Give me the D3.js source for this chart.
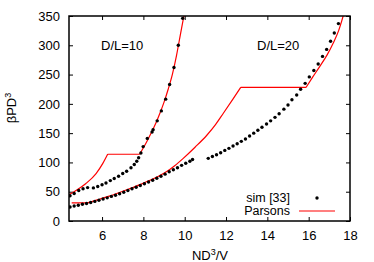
<!DOCTYPE html>
<html>
<head>
<meta charset="utf-8">
<script src="https://cdn.jsdelivr.net/npm/d3@7"></script>
<style>
  body { margin: 0; background: #fff; }
  text { font-family: "Liberation Sans", Arial, sans-serif; }
</style>
</head>
<body>
<div id="chart"></div>
<script>
// simulation points, D/L=10
var sim10X = [4.45, 4.65, 4.87, 5.08, 5.30, 5.58, 5.79, 6.00, 6.19, 6.40, 6.59, 6.80, 7.00, 7.19, 7.40, 7.56, 7.68, 7.77, 7.88,
              7.99, 8.19, 8.42, 8.47, 8.67, 8.87, 9.08, 9.27, 9.48, 9.69, 9.90];
var sim10Y = [43, 47, 52, 55, 57, 56.5, 59, 62, 65, 69, 72.5, 76.5, 81, 85, 91, 96.5, 102, 108, 116,
              127, 141, 152, 156, 171, 188, 208, 233, 262, 300, 346];

// simulation points, D/L=20 (two pieces with a gap)
var sim20aX = [4.45, 4.65, 4.85, 5.05, 5.25, 5.45, 5.65, 5.85, 6.05, 6.25, 6.45, 6.65, 6.85, 7.05, 7.25, 7.45, 7.65, 7.85,
               8.05, 8.25, 8.45, 8.65, 8.85, 9.05, 9.25, 9.45, 9.65, 9.85, 10.05, 10.25, 10.38];
var sim20aY = [24, 25.5, 27, 28.5, 30, 31.5, 33.5, 35.5, 37.5, 39.5, 42, 44, 46.5, 49, 52, 55, 57.5, 60.5,
               63.5, 66.5, 69.5, 73, 76.5, 80, 84, 87.5, 91, 95, 98.5, 102, 105];
var sim20bX = [11.14, 11.34, 11.54, 11.74, 11.94, 12.14, 12.34, 12.54, 12.74, 12.94, 13.14, 13.34, 13.54, 13.74, 13.96,
               14.16, 14.37, 14.57, 14.80, 15.00, 15.19, 15.42, 15.61, 15.83, 16.03, 16.25, 16.46, 16.67, 16.87, 17.06, 17.24, 17.44];
var sim20bY = [107, 110, 113, 116.5, 120.5, 124, 128, 132, 136, 140, 145, 150, 155, 160, 165.5,
               171, 177, 183, 191, 198, 207, 215, 225, 235, 246, 257, 268, 281, 293, 307, 321, 337];

// Parsons theory curves
var pars10X = [4.4, 4.74, 5.22, 5.71, 6.03, 6.27, 7.82, 8.0, 8.2, 8.4, 8.6, 8.8, 9.0, 9.2, 9.4, 9.6, 9.8, 9.96];
var pars10Y = [45, 52, 64, 81, 98, 114, 114, 125, 138, 152, 167, 184, 203, 225, 250, 282, 320, 350];
var pars20X = [4.53, 5.29, 5.5, 5.9, 6.3, 6.71, 7.1, 7.51, 7.9, 8.32, 8.7, 9.13, 9.5, 9.93, 10.5, 11.06, 11.5, 11.87, 12.35, 12.71,
               15.87, 16.2, 16.54, 16.9, 17.19, 17.45, 17.67];
var pars20Y = [31, 31, 33, 37.5, 42, 47, 52, 57.5, 63, 69.5, 76, 84.5, 94, 107, 126, 146, 165, 184, 209, 228,
               228, 246, 264, 284, 304, 325, 350];

var xTicks = [6, 8, 10, 12, 14, 16, 18];
var yTicks = [0, 50, 100, 150, 200, 250, 300, 350];

// split a curve at its flat parts so corners stay sharp
function pieces(xs, ys) {
    var pts = d3.zip(xs, ys), out = [], cur = [pts[0]];
    for (var i = 1; i < pts.length; i++) {
        var flat = pts[i][1] === pts[i - 1][1];
        var prevFlat = i > 1 && pts[i - 1][1] === pts[i - 2][1];
        if (flat !== prevFlat && cur.length > 1) {
            out.push(cur);
            cur = [pts[i - 1]];
        }
        cur.push(pts[i]);
    }
    out.push(cur);
    return out;
}

function init() {
    var w = 374, h = 262;
    var mLeft = 69, mRight = 350, mTop = 16, mBottom = 221;

    var svg = d3.select("#chart").append("svg")
        .attr("width", w)
        .attr("height", h);

    var x = d3.scaleLinear().domain([4.4, 18]).range([mLeft, mRight]);
    var y = d3.scaleLinear().domain([0, 350]).range([mBottom, mTop]);

    svg.append("defs").append("clipPath").attr("id", "clip")
        .append("rect")
        .attr("x", mLeft).attr("y", mTop)
        .attr("width", mRight - mLeft).attr("height", mBottom - mTop);

    // axes, ticks point inward and mirror on top/right
    function styleAxis(g) {
        g.select(".domain").remove();
        g.selectAll("line").attr("stroke", "#000").attr("stroke-width", 1);
        g.selectAll("text").attr("fill", "#000").style("font-size", "13px")
            .style("font-family", "'Liberation Sans', Arial, sans-serif");
    }

    svg.append("g").attr("transform", "translate(0," + mBottom + ")")
        .call(d3.axisBottom(x).tickValues(xTicks).tickSize(-4).tickPadding(10))
        .call(styleAxis);
    svg.append("g").attr("transform", "translate(0," + mTop + ")")
        .call(d3.axisTop(x).tickValues(xTicks).tickSize(-4).tickFormat(""))
        .call(styleAxis);
    svg.append("g").attr("transform", "translate(" + mLeft + ",0)")
        .call(d3.axisLeft(y).tickValues(yTicks).tickSize(-4).tickPadding(9))
        .call(styleAxis);
    svg.append("g").attr("transform", "translate(" + mRight + ",0)")
        .call(d3.axisRight(y).tickValues(yTicks).tickSize(-4).tickFormat(""))
        .call(styleAxis);

    var plot = svg.append("g").attr("clip-path", "url(#clip)");

    var line = d3.line()
        .curve(d3.curveMonotoneX)
        .x(function(d) { return x(d[0]); })
        .y(function(d) { return y(d[1]); });

    [[pars10X, pars10Y], [pars20X, pars20Y]].forEach(function(s) {
        var segs = pieces(s[0], s[1]);
        var path = segs.map(function(p) { return line(p); }).join("");
        plot.append("path")
            .attr("d", path)
            .attr("fill", "none")
            .attr("stroke", "#ff0000")
            .attr("stroke-width", 1.2)
            .attr("stroke-linejoin", "round");
    });

    var pts = d3.zip(sim10X, sim10Y).concat(d3.zip(sim20aX, sim20aY), d3.zip(sim20bX, sim20bY));
    plot.selectAll("circle")
        .data(pts)
        .enter()
        .append("circle")
        .attr("cx", function(d) { return x(d[0]); })
        .attr("cy", function(d) { return y(d[1]); })
        .attr("r", 1.7)
        .attr("fill", "#000");

    // frame
    svg.append("rect")
        .attr("x", mLeft).attr("y", mTop)
        .attr("width", mRight - mLeft).attr("height", mBottom - mTop)
        .attr("fill", "none")
        .attr("stroke", "#000")
        .attr("stroke-width", 1.5);

    // labels
    svg.append("text").attr("x", 101).attr("y", 50).style("font-size", "13px").text("D/L=10");
    svg.append("text").attr("x", 257).attr("y", 50).style("font-size", "13px").text("D/L=20");

    var xl = svg.append("text").attr("x", 210).attr("y", 260).attr("text-anchor", "middle").style("font-size", "13px");
    xl.append("tspan").text("ND");
    xl.append("tspan").attr("dy", -5).style("font-size", "9px").text("3");
    xl.append("tspan").attr("dy", 5).text("/V");

    var yl = svg.append("text")
        .attr("transform", "translate(16,108) rotate(-90)")
        .attr("text-anchor", "middle")
        .style("font-size", "13px");
    yl.append("tspan").text("βPD");
    yl.append("tspan").attr("dy", -5).style("font-size", "9px").text("3");

    // legend
    svg.append("text").attr("x", 290).attr("y", 201.5).attr("text-anchor", "end").style("font-size", "12.5px").text("sim [33]");
    svg.append("circle").attr("cx", 317).attr("cy", 198).attr("r", 1.7).attr("fill", "#000");
    svg.append("text").attr("x", 290).attr("y", 215).attr("text-anchor", "end").style("font-size", "12.5px").text("Parsons");
    svg.append("line").attr("x1", 299).attr("x2", 335).attr("y1", 211).attr("y2", 211)
        .attr("stroke", "#ff0000").attr("stroke-width", 1.2);
}
window.onload = init;
</script>
</body>
</html>
